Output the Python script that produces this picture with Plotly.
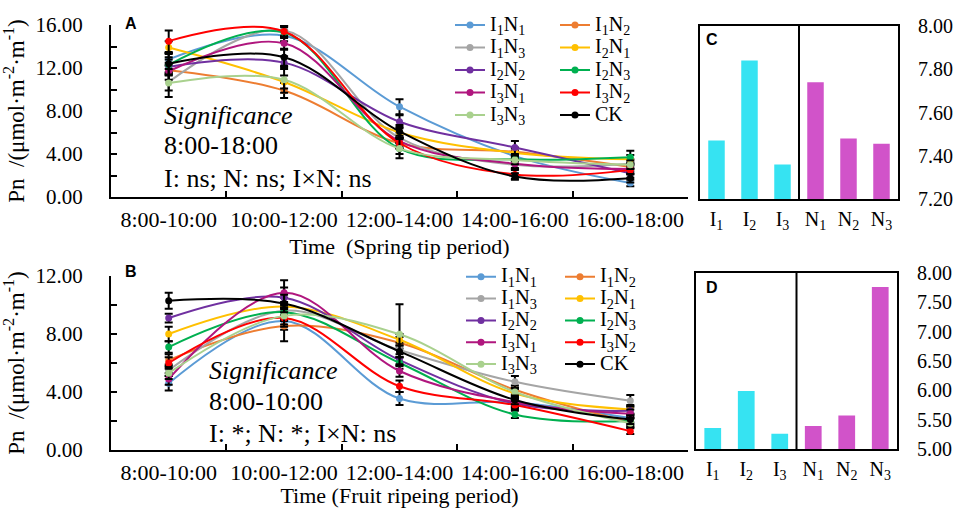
import plotly.graph_objects as go

SERIF = "Liberation Serif, Times New Roman, serif"
SANS = "Liberation Sans, Arial, sans-serif"
W, H = 956, 508

periods = ["8:00-10:00", "10:00-12:00", "12:00-14:00", "14:00-16:00", "16:00-18:00"]
treatments = ["I1N1", "I1N2", "I1N3", "I2N1", "I2N2", "I2N3", "I3N1", "I3N2", "I3N3", "CK"]
treatment_labels = ["I<sub>1</sub>N<sub>1</sub>", "I<sub>1</sub>N<sub>2</sub>",
                    "I<sub>1</sub>N<sub>3</sub>", "I<sub>2</sub>N<sub>1</sub>",
                    "I<sub>2</sub>N<sub>2</sub>", "I<sub>2</sub>N<sub>3</sub>",
                    "I<sub>3</sub>N<sub>1</sub>", "I<sub>3</sub>N<sub>2</sub>",
                    "I<sub>3</sub>N<sub>3</sub>", "CK"]
treatment_colors = ["#5B9BD5", "#ED7D31", "#A5A5A5", "#FFC000", "#7030A0",
                    "#00B050", "#B0167E", "#FF0000", "#A9D18E", "#000000"]

# Net photosynthetic rate, spring tip period
spring_I1N1 = [12.8, 15.0, 8.4, 3.8, 1.3]
spring_I1N2 = [11.8, 9.9, 5.0, 4.2, 2.8]
spring_I1N3 = [10.7, 15.5, 5.5, 3.0, 3.1]
spring_I2N1 = [13.9, 10.7, 6.0, 4.1, 3.5]
spring_I2N2 = [12.1, 12.5, 7.0, 4.6, 2.2]
spring_I2N3 = [12.3, 15.3, 4.5, 3.5, 3.7]
spring_I3N1 = [11.7, 14.3, 5.2, 3.1, 2.6]
spring_I3N2 = [14.5, 15.4, 5.0, 2.1, 2.5]
spring_I3N3 = [10.6, 10.9, 4.5, 3.45, 3.0]
spring_CK = [12.4, 13.0, 6.1, 1.9, 1.75]

# Standard errors, spring tip period
spring_se_I1N1 = [0.6, 0.5, 0.7, 0.5, 0.3]
spring_se_I1N2 = [0.5, 0.7, 0.5, 0.4, 0.4]
spring_se_I1N3 = [0.8, 0.5, 0.5, 0.4, 0.4]
spring_se_I2N1 = [0.6, 0.6, 0.5, 0.4, 0.4]
spring_se_I2N2 = [0.7, 0.6, 0.6, 0.6, 0.4]
spring_se_I2N3 = [0.7, 0.5, 0.5, 0.4, 0.6]
spring_se_I3N1 = [0.8, 0.6, 0.5, 0.4, 0.4]
spring_se_I3N2 = [1.0, 0.5, 0.5, 0.4, 0.4]
spring_se_I3N3 = [1.3, 1.2, 0.9, 0.4, 0.4]
spring_se_CK = [1.0, 0.8, 0.6, 0.3, 0.4]

# Net photosynthetic rate, fruit ripening period
ripen_I1N1 = [4.6, 8.9, 3.55, 3.3, 2.2]
ripen_I1N2 = [6.2, 8.55, 7.4, 4.15, 1.9]
ripen_I1N3 = [5.5, 9.6, 6.9, 4.7, 3.4]
ripen_I2N1 = [8.0, 9.9, 7.6, 3.9, 2.8]
ripen_I2N2 = [9.1, 10.5, 6.2, 3.2, 2.7]
ripen_I2N3 = [7.1, 9.5, 6.0, 2.45, 2.0]
ripen_I3N1 = [4.9, 10.85, 5.45, 3.3, 2.5]
ripen_I3N2 = [6.0, 9.1, 4.4, 3.1, 1.3]
ripen_I3N3 = [5.3, 9.25, 7.98, 4.0, 1.85]
ripen_CK = [10.3, 10.1, 6.8, 3.45, 2.1]

# Standard errors, fruit ripening period
ripen_se_I1N1 = [0.5, 0.6, 0.45, 0.3, 0.3]
ripen_se_I1N2 = [0.4, 1.05, 0.4, 0.3, 0.3]
ripen_se_I1N3 = [0.4, 0.6, 0.5, 0.4, 0.4]
ripen_se_I2N1 = [0.5, 0.6, 0.4, 0.3, 0.3]
ripen_se_I2N2 = [0.3, 0.7, 0.4, 0.3, 0.3]
ripen_se_I2N3 = [0.4, 0.6, 0.4, 0.25, 0.3]
ripen_se_I3N1 = [0.4, 0.85, 0.4, 0.3, 0.3]
ripen_se_I3N2 = [0.4, 0.6, 0.4, 0.3, 0.2]
ripen_se_I3N3 = [0.4, 0.6, 2.07, 0.3, 0.3]
ripen_se_CK = [0.55, 0.6, 0.4, 0.3, 0.3]

# Daily mean Pn by irrigation (I) and nitrogen (N) level
factors = ["I1", "I2", "I3", "N1", "N2", "N3"]
factor_labels = ["I<sub>1</sub>", "I<sub>2</sub>", "I<sub>3</sub>",
                 "N<sub>1</sub>", "N<sub>2</sub>", "N<sub>3</sub>"]
spring_factor_pn = [7.47, 7.84, 7.36, 7.74, 7.48, 7.455]
ripen_factor_pn = [5.36, 5.99, 5.26, 5.39, 5.57, 7.76]
factor_colors = ["#36E3F2", "#36E3F2", "#36E3F2", "#D153C9", "#D153C9", "#D153C9"]

# Axis ticks
spring_yticks = [0, 2, 4, 6, 8, 10, 12, 14, 16]
spring_ytext = ["0.00", "", "4.00", "", "8.00", "", "12.00", "", "16.00"]
ripen_yticks = [0, 2, 4, 6, 8, 10, 12]
ripen_ytext = ["0.00", "", "4.00", "", "8.00", "", "12.00"]
spring_bar_ticks = [7.2, 7.4, 7.6, 7.8, 8.0]
spring_bar_text = ["7.20", "7.40", "7.60", "7.80", "8.00"]
ripen_bar_ticks = [5.0, 5.5, 6.0, 6.5, 7.0, 7.5, 8.0]
ripen_bar_text = ["5.00", "5.50", "6.00", "6.50", "7.00", "7.50", "8.00"]

# ANOVA summary lines
spring_sig = ["<i>Significance</i>", "8:00-18:00", "I: ns; N: ns; I\u00d7N: ns"]
ripen_sig = ["<i>Significance</i>", "8:00-10:00", "I: *; N: *; I\u00d7N: ns"]

spring_pn = [spring_I1N1, spring_I1N2, spring_I1N3, spring_I2N1, spring_I2N2,
             spring_I2N3, spring_I3N1, spring_I3N2, spring_I3N3, spring_CK]
spring_se = [spring_se_I1N1, spring_se_I1N2, spring_se_I1N3, spring_se_I2N1, spring_se_I2N2,
             spring_se_I2N3, spring_se_I3N1, spring_se_I3N2, spring_se_I3N3, spring_se_CK]
ripen_pn = [ripen_I1N1, ripen_I1N2, ripen_I1N3, ripen_I2N1, ripen_I2N2,
            ripen_I2N3, ripen_I3N1, ripen_I3N2, ripen_I3N3, ripen_CK]
ripen_se = [ripen_se_I1N1, ripen_se_I1N2, ripen_se_I1N3, ripen_se_I2N1, ripen_se_I2N2,
            ripen_se_I2N3, ripen_se_I3N1, ripen_se_I3N2, ripen_se_I3N3, ripen_se_CK]


def px_x(p):
    return p / W


def px_y(p):
    return 1 - p / H


fig = go.Figure()


def add_lines(values, errors, xa, ya, legends, label_px):
    for i, name in enumerate(treatments):
        color = treatment_colors[i]
        fig.add_trace(go.Scatter(
            x=periods, y=values[i],
            error_y=dict(type="data", array=errors[i], color="black", thickness=2, width=4),
            mode="lines+markers",
            line=dict(color=color, width=2, shape="spline", smoothing=1),
            marker=dict(color=color, size=7),
            name=f'<span style="font-size:{label_px}px">{treatment_labels[i]}</span>',
            legend=legends[i % 2],
            xaxis=xa, yaxis=ya,
        ))


add_lines(spring_pn, spring_se, "x", "y", ["legend", "legend2"], 20)
add_lines(ripen_pn, ripen_se, "x2", "y2", ["legend3", "legend4"], 20.5)

fig.add_trace(go.Bar(x=factors, y=spring_factor_pn, marker=dict(color=factor_colors, line_width=0),
                     width=0.5, xaxis="x3", yaxis="y3", showlegend=False))
fig.add_trace(go.Bar(x=factors, y=ripen_factor_pn, marker=dict(color=factor_colors, line_width=0),
                     width=0.5, xaxis="x4", yaxis="y4", showlegend=False))

bar_tick_font = dict(family=SERIF, size=20, color="black")
x_tick_font = dict(family=SERIF, size=22, color="black")
y_tick_font = dict(family=SERIF, size=21, color="black")

x_line_domain = [px_x(111), px_x(688)]


def line_xaxis(anchor, title):
    return dict(domain=x_line_domain, anchor=anchor, type="category",
                categoryorder="array", categoryarray=periods, range=[-0.5, 4.5],
                showline=True, linecolor="black", linewidth=2,
                ticks="inside", tickson="boundaries", ticklen=6, tickwidth=1.5, tickcolor="black",
                tickfont=x_tick_font, tickangle=0, ticklabelstandoff=2,
                showgrid=False, zeroline=False, automargin=False,
                title=dict(text=title, font=dict(family=SERIF, size=22, color="black"),
                           standoff=7))


def line_yaxis(anchor, domain, rng, vals, text):
    return dict(domain=domain, anchor=anchor, range=rng, tickmode="array",
                tickvals=vals, ticktext=text,
                showline=True, linecolor="black", linewidth=2,
                ticks="inside", ticklen=6, tickwidth=1.5, tickcolor="black",
                tickfont=y_tick_font, ticklabelstandoff=22,
                showgrid=False, zeroline=False, automargin=False,
                title=dict(text="Pn\u00a0\u00a0/(\u03bcmol\u00b7m<sup>-2</sup>\u00b7m<sup>-1</sup>)",
                           font=dict(family=SERIF, size=23, color="black"), standoff=5))


def bar_xaxis(anchor, domain):
    return dict(domain=domain, anchor=anchor, type="category", range=[-0.5, 5.5],
                tickmode="array", tickvals=factors, ticktext=factor_labels, tickangle=0,
                showline=True, mirror=True, linecolor="black", linewidth=2, ticks="",
                tickfont=bar_tick_font, ticklabelstandoff=1, showgrid=False, zeroline=False,
                automargin=False)


def bar_yaxis(anchor, domain, rng, vals, text):
    return dict(domain=domain, anchor=anchor, side="right", range=rng, tickmode="array",
                tickvals=vals, ticktext=text, showline=True, mirror=True, linecolor="black",
                linewidth=2, ticks="", tickfont=bar_tick_font, ticklabelstandoff=14,
                showgrid=False, zeroline=False, automargin=False)


def bar_inner_ticks(over, anchor, rng, vals):
    return dict(overlaying=over, anchor=anchor, side="left", range=rng, tickmode="array",
                tickvals=vals, ticks="inside", ticklen=5, tickwidth=1.5, tickcolor="black",
                showticklabels=False, showline=False, showgrid=False, zeroline=False,
                automargin=False)


def legend_box(left_px, top_px, size):
    return dict(x=px_x(left_px), y=px_y(top_px), xanchor="left", yanchor="top",
                orientation="v", bgcolor="rgba(0,0,0,0)", borderwidth=0, tracegroupgap=0,
                font=dict(family=SERIF, size=size, color="black"))


fig.update_layout(
    width=W, height=H, template="none",
    paper_bgcolor="white", plot_bgcolor="rgba(0,0,0,0)",
    margin=dict(l=0, r=0, t=0, b=0),
    xaxis=line_xaxis("y", "Time\u00a0\u00a0(Spring tip period)"),
    yaxis=line_yaxis("x", [px_y(197), px_y(25)], [0, 16], spring_yticks, spring_ytext),
    xaxis2=line_xaxis("y2", "Time (Fruit ripeing period)"),
    yaxis2=line_yaxis("x2", [px_y(450), px_y(276)], [0, 12], ripen_yticks, ripen_ytext),
    xaxis3=bar_xaxis("y3", [px_x(700), px_x(898)]),
    yaxis3=bar_yaxis("x3", [px_y(199), px_y(26)], [7.2, 8.0], spring_bar_ticks, spring_bar_text),
    xaxis4=bar_xaxis("y4", [px_x(696), px_x(897)]),
    yaxis4=bar_yaxis("x4", [px_y(449), px_y(273)], [5.0, 8.0], ripen_bar_ticks, ripen_bar_text),
    yaxis5=bar_inner_ticks("y3", "x3", [7.2, 8.0], spring_bar_ticks),
    yaxis6=bar_inner_ticks("y4", "x4", [5.0, 8.0], ripen_bar_ticks),
    legend=legend_box(450, 8.75, 15),
    legend2=legend_box(555, 8.75, 15),
    legend3=legend_box(461, 260.8, 14.5),
    legend4=legend_box(560, 260.8, 14.5),
)

# Divider between the irrigation and nitrogen groups
for xa, ya in (("x3", "y3"), ("x4", "y4")):
    fig.add_shape(type="line", xref=xa, yref=f"{ya} domain", x0=2.5, x1=2.5, y0=0, y1=1,
                  line=dict(color="black", width=2))

# Panel letters
for letter, (lx, ly) in {"A": (131, 23), "B": (131, 271), "C": (712, 40), "D": (712, 287)}.items():
    fig.add_annotation(text=f"<b>{letter}</b>", x=px_x(lx), y=px_y(ly), xref="paper", yref="paper",
                       showarrow=False, xanchor="center", yanchor="middle",
                       font=dict(family=SANS, size=16, color="black"))

# Two-way ANOVA summaries, one line per annotation
sig_font = dict(family=SERIF, size=26, color="black")
for lines, left, centers in ((spring_sig, 162, (115, 146, 178)),
                             (ripen_sig, 207, (370.5, 401.5, 433))):
    for text, cy in zip(lines, centers):
        fig.add_annotation(text=text, x=px_x(left), y=px_y(cy), xref="paper", yref="paper",
                           showarrow=False, xanchor="left", yanchor="middle", align="left",
                           font=sig_font)

fig.write_html("out.html")
